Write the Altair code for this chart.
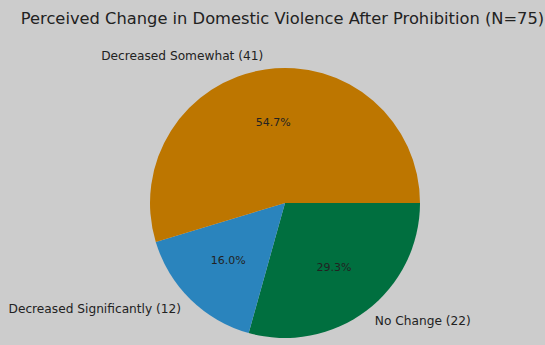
import altair as alt
import pandas as pd
import math

categories = ["No Change", "Decreased Significantly", "Decreased Somewhat"]
counts = [22, 12, 41]
colors = ["#006f3f", "#2a84bd", "#bd7600"]
order = [0, 1, 2]
label_align = ["left", "right", "right"]

total = sum(counts)
df = pd.DataFrame({
    "category": categories,
    "count": counts,
    "order": order,
    "pct": [f"{c / total * 100:.1f}%" for c in counts],
    "label": [f"{cat} ({c})" for cat, c in zip(categories, counts)],
    "align": label_align,
})

R = 135
cx, cy = 285, 168
theta = alt.Theta("count:Q", stack=True,
                  scale=alt.Scale(range=[math.pi / 2, math.pi / 2 + 2 * math.pi]))
base = alt.Chart(df).encode(
    theta=theta,
    order=alt.Order("order:Q"),
    x=alt.value(cx), y=alt.value(cy),
)

pie = base.mark_arc(radius=R).encode(
    color=alt.Color("category:N", scale=alt.Scale(domain=categories, range=colors), legend=None)
)

pct = base.mark_text(radius=R * 0.6, font="DejaVu Sans", fontSize=11, color="#222222").encode(
    text="pct:N"
)

left_labels = base.mark_text(radius=R * 1.1, align="left", baseline="middle",
                             font="DejaVu Sans", fontSize=12.2, color="#222222").encode(
    text=alt.condition(alt.datum.align == "left", "label:N", alt.value(""))
)
right_labels = base.mark_text(radius=R * 1.1, align="right", baseline="middle",
                              font="DejaVu Sans", fontSize=12.2, color="#222222").encode(
    text=alt.condition(alt.datum.align == "right", "label:N", alt.value(""))
)

chart = alt.layer(pie, pct, left_labels, right_labels).properties(
    width=545, height=310,
    title=alt.Title("Perceived Change in Domestic Violence After Prohibition (N=75)",
                    font="DejaVu Sans", fontSize=16.3, fontWeight="normal",
                    color="#222222", anchor="middle", offset=8, dx=10),
    autosize=alt.AutoSizeParams(type="none"),
    padding={"left": 0, "top": 35, "right": 0, "bottom": 0},
).configure(background="#cccccc").configure_view(stroke=None)

chart.save("out.html", embed_options={"renderer": "svg", "actions": False})
